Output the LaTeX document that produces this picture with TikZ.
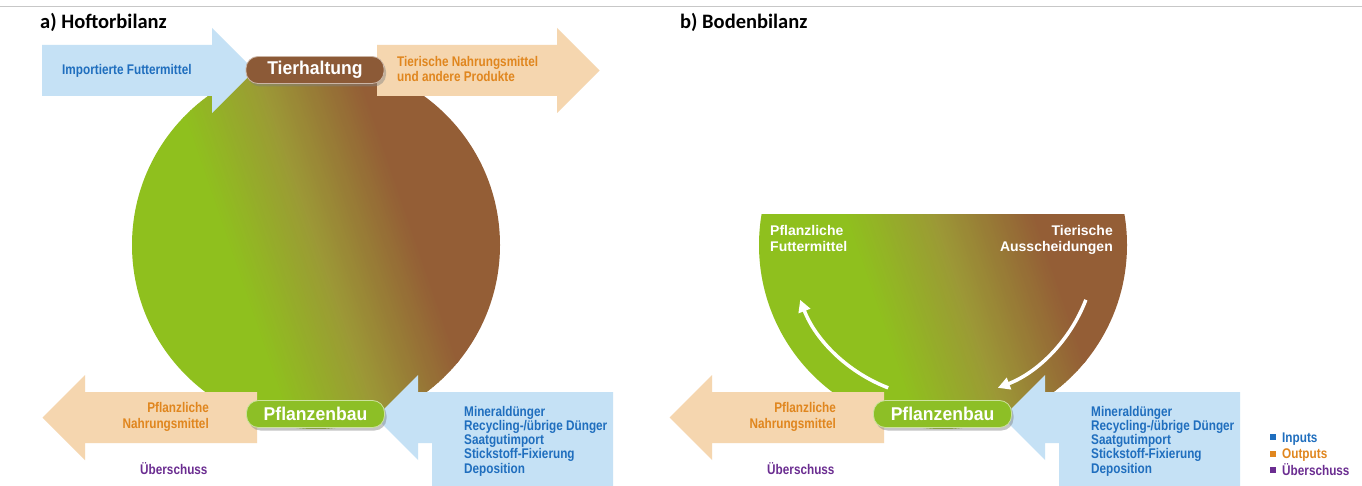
\documentclass[tikz,border=0pt]{standalone}
\usepackage{fontspec}
\usetikzlibrary{arrows.meta,shadows}
\setmainfont{Liberation Sans}
\newfontfamily\narrowfam[FakeStretch=0.84]{Liberation Sans}
\newfontfamily\stagefam[FakeStretch=0.95]{Liberation Sans}
\newfontfamily\titlefam{Carlito}
\definecolor{leafgreen}{RGB}{143,192,30}
\definecolor{midolive}{RGB}{156,152,54}
\definecolor{soilbrown}{RGB}{148,94,54}
\definecolor{inblue}{RGB}{31,110,190}
\definecolor{outorange}{RGB}{224,134,30}
\definecolor{surpurple}{RGB}{107,45,145}
\definecolor{inbg}{RGB}{197,225,245}
\definecolor{outbg}{RGB}{245,214,175}
\definecolor{stagebrown}{RGB}{140,90,55}
\definecolor{stagegreen}{RGB}{141,191,38}
\newcommand\hofgradient{%
  \fill[leafgreen] (-200,-200) rectangle (-85,200);
  \fill[soilbrown] (93,-200) rectangle (200,200);
  \foreach \s in {-86,-83,...,-2}{%
    \pgfmathsetmacro\mixpct{min(100,max(0,(\s+86)/0.86))}%
    \fill[midolive!\mixpct!leafgreen] (\s,-200) rectangle (\s+3.6,200);
  }%
  \foreach \s in {1,4,...,94}{%
    \pgfmathsetmacro\mixpct{min(100,max(0,\s/0.94))}%
    \fill[soilbrown!\mixpct!midolive] (\s-1,-200) rectangle (\s+2.6,200);
  }%
}
\tikzset{
  lbl/.style={font=\narrowfam\bfseries\fontsize{14}{14}\selectfont, inner sep=0pt},
  inlbl/.style={lbl, text=inblue, anchor=base west},
  outlbl/.style={lbl, text=outorange},
  surlbl/.style={lbl, text=surpurple, anchor=base west},
  inarrow/.style={fill=inbg},
  outarrow/.style={fill=outbg},
  stagebox/.style={rounded corners=12pt, minimum width=138pt, minimum height=27pt,
    inner sep=0pt, text=white, line width=0.8pt,
    font=\stagefam\bfseries\fontsize{18.5}{18.5}\selectfont,
    drop shadow={shadow xshift=2pt, shadow yshift=-3pt, opacity=0.45}},
  titlelbl/.style={font=\titlefam\bfseries\fontsize{20.5}{20.5}\selectfont, inner sep=0pt, anchor=base west},
  bowllbl/.style={font=\bfseries\fontsize{14}{14}\selectfont, text=white, inner sep=0pt},
  cyclearrow/.style={draw=white, line width=3.5pt, -{Triangle[length=12pt,width=12pt]}},
  legendsq/.style={inner sep=0pt, minimum size=6pt},
}
\begin{document}
\begin{tikzpicture}[x=1pt,y=-1pt]
\useasboundingbox (0,0) rectangle (1362,486);
\fill[white] (0,0) rectangle (1362,486);
\draw[black!22, line width=1.2pt] (0,6.5) -- (1362,6.5);

% titles
\node[titlelbl] (ta) at (40,29) {a) Hoftorbilanz};
\node[titlelbl] (tb) at (680,29) {b) Bodenbilanz};

% ---------- a) circle ----------
\begin{scope}
  \clip (316,245) circle[radius=184];
  \begin{scope}[shift={(318,245)}, rotate=19]
    \hofgradient
  \end{scope}
\end{scope}

% ---------- b) bowl ----------
\begin{scope}
  \clip (943,245) circle[radius=184];
  \clip (700,215) rectangle (1200,500);
  \begin{scope}[shift={(945,245)}, rotate=19]
    \hofgradient
  \end{scope}
\end{scope}

% ---------- a) arrows ----------
\fill[inarrow] (42,45) -- (212,45) -- (212,28) -- (254.5,70.5) -- (212,113) -- (212,96) -- (42,96) -- cycle;
\fill[outarrow] (377,45) -- (557,45) -- (557,28) -- (599.5,70.5) -- (557,113) -- (557,96) -- (377,96) -- cycle;
\fill[outarrow] (257,392) -- (85,392) -- (85,375) -- (42.5,417.5) -- (85,460) -- (85,443) -- (257,443) -- cycle;
\fill[inarrow] (613,392) -- (418,392) -- (418,375) -- (375.5,417.5) -- (418,460) -- (418,443) -- (432,443) -- (432,486) -- (613,486) -- cycle;

% ---------- b) arrows ----------
\fill[outarrow] (884,392) -- (712,392) -- (712,375) -- (669.5,417.5) -- (712,460) -- (712,443) -- (884,443) -- cycle;
\fill[inarrow] (1240,392) -- (1045,392) -- (1045,375) -- (1002.5,417.5) -- (1045,460) -- (1045,443) -- (1059,443) -- (1059,486) -- (1240,486) -- cycle;

% ---------- a) labels ----------
\node[inlbl] (imp) at (62,75) {Importierte Futtermittel};
\node[outlbl, anchor=base west] (tn1) at (397,66.5) {Tierische Nahrungsmittel};
\node[outlbl, anchor=base west] (tn2) at (397,81.7) {und andere Produkte};
\node[outlbl, anchor=base east] (pn1) at (209,412.7) {Pflanzliche};
\node[outlbl, anchor=base east] (pn2) at (209,428.3) {Nahrungsmittel};
\node[surlbl] (ua) at (140,474) {Überschuss};
\node[inlbl] (ia1) at (464,416.3) {Mineraldünger};
\node[inlbl] (ia2) at (464,430.5) {Recycling-/übrige Dünger};
\node[inlbl] (ia3) at (464,444.7) {Saatgutimport};
\node[inlbl] (ia4) at (464,458.9) {Stickstoff-Fixierung};
\node[inlbl] (ia5) at (464,473.1) {Deposition};

% ---------- b) labels ----------
\node[bowllbl, anchor=base west] (pf1) at (770,235.3) {Pflanzliche};
\node[bowllbl, anchor=base west] (pf2) at (770,251.3) {Futtermittel};
\node[bowllbl, anchor=base east] (ta1) at (1113,235.3) {Tierische};
\node[bowllbl, anchor=base east] (ta2) at (1113,251.3) {Ausscheidungen};
\node[outlbl, anchor=base east] (pnb1) at (836,412.7) {Pflanzliche};
\node[outlbl, anchor=base east] (pnb2) at (836,428.3) {Nahrungsmittel};
\node[surlbl] (ub) at (767,474) {Überschuss};
\node[inlbl] (ib1) at (1091,416.3) {Mineraldünger};
\node[inlbl] (ib2) at (1091,430.5) {Recycling-/übrige Dünger};
\node[inlbl] (ib3) at (1091,444.7) {Saatgutimport};
\node[inlbl] (ib4) at (1091,458.9) {Stickstoff-Fixierung};
\node[inlbl] (ib5) at (1091,473.1) {Deposition};

% cycle arrows in bowl
\coordinate (la1) at ([shift={(943,245)}]111:153);
\coordinate (ra1) at ([shift={(943,245)}]21:153);
\draw[cyclearrow] (la1) arc[start angle=111, end angle=159, radius=153];
\draw[cyclearrow] (ra1) arc[start angle=21, end angle=69, radius=153];

% ---------- stage nodes ----------
\node[stagebox, fill=stagebrown, draw=stagebrown!45!white] (tier) at (315,70) {Tierhaltung};
\node[stagebox, fill=stagegreen, draw=stagegreen!45!white] (pflA) at (315.5,414) {Pflanzenbau};
\node[stagebox, fill=stagegreen, draw=stagegreen!45!white] (pflB) at (942.5,414) {Pflanzenbau};

% ---------- legend ----------
\node[legendsq, fill=inblue] (sq1) at (1273,437) {};
\node[legendsq, fill=outorange] (sq2) at (1273,453.5) {};
\node[legendsq, fill=surpurple] (sq3) at (1273,470) {};
\node[lbl, text=inblue, anchor=base west] (lg1) at (1282,442) {Inputs};
\node[lbl, text=outorange, anchor=base west] (lg2) at (1282,458.5) {Outputs};
\node[lbl, text=surpurple, anchor=base west] (lg3) at (1282,475) {Überschuss};
\end{tikzpicture}
\end{document}
